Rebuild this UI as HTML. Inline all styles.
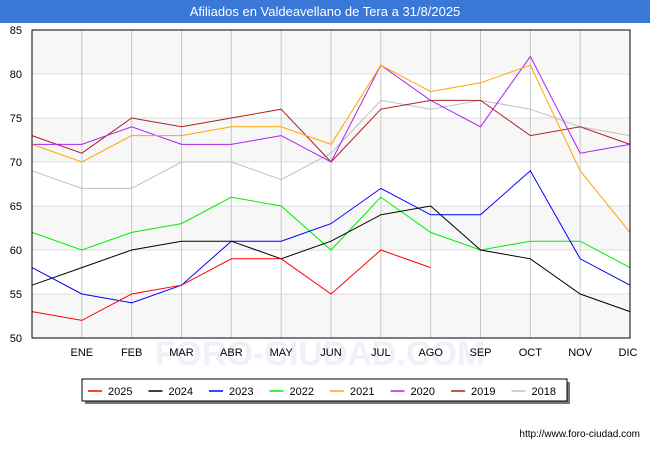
<!DOCTYPE html>
<html><head><meta charset="utf-8"><style>
body{margin:0;background:#fff;font-family:"Liberation Sans",sans-serif;}
</style></head><body>
<svg width="650" height="450" xmlns="http://www.w3.org/2000/svg">
<rect x="0" y="0" width="650" height="450" fill="#fff"/>
<rect x="0" y="0" width="650" height="23" fill="#3a78d8"/>
<text x="325" y="16" text-anchor="middle" fill="#fff" font-size="13">Afiliados en Valdeavellano de Tera a 31/8/2025</text>
<g id="bands"></g>
<g id="grid"></g>
<text x="320" y="365" text-anchor="middle" font-size="34" fill="#eef0fa" font-weight="bold">FORO-CIUDAD.COM</text>
<g id="series"></g>
<rect x="32" y="30" width="598" height="308" fill="none" stroke="#000" stroke-width="1"/>
<g id="axes"></g>
<rect x="85" y="382" width="485" height="22" fill="#777"/>
<rect x="82" y="379" width="485" height="22" fill="#fff" stroke="#000" stroke-width="1"/>
<g id="legend"></g>
<text x="640" y="437" text-anchor="end" font-size="10" fill="#000">http://www.foro-ciudad.com</text>
</svg>
<script>
const months=["","ENE","FEB","MAR","ABR","MAY","JUN","JUL","AGO","SEP","OCT","NOV","DIC"];
const yTicks=[50,55,60,65,70,75,80,85];
const seriesNames=["2025","2024","2023","2022","2021","2020","2019","2018"];
const seriesColors=["#ff0000","#000000","#0000ff","#00ee00","#ffa500","#aa22ee","#aa2222","#c0c0c0"];
const s2025=[53,52,55,56,59,59,55,60,58];
const s2024=[56,58,60,61,61,59,61,64,65,60,59,55,53];
const s2023=[58,55,54,56,61,61,63,67,64,64,69,59,56];
const s2022=[62,60,62,63,66,65,60,66,62,60,61,61,58];
const s2021=[72,70,73,73,74,74,72,81,78,79,81,69,62];
const s2020=[72,72,74,72,72,73,70,81,77,74,82,71,72];
const s2019=[73,71,75,74,75,76,70,76,77,77,73,74,72];
const s2018=[69,67,67,70,70,68,71,77,76,77,76,74,73];
const allSeries=[s2025,s2024,s2023,s2022,s2021,s2020,s2019,s2018];
const NS="http://www.w3.org/2000/svg";
const X0=32,X1=630,Y0=338,Y1=30,VMIN=50,VMAX=85;
const xs=i=>X0+i*(X1-X0)/12;
const ys=v=>Y0-(v-VMIN)*(Y0-Y1)/(VMAX-VMIN);
function mk(tag,attrs,parent){const e=document.createElementNS(NS,tag);for(const k in attrs)e.setAttribute(k,attrs[k]);parent.appendChild(e);return e;}
const bands=document.getElementById('bands'),grid=document.getElementById('grid'),axes=document.getElementById('axes'),ser=document.getElementById('series'),leg=document.getElementById('legend');
for(let i=0;i<yTicks.length-1;i++){
  if(i%2===0){const r=mk('rect',{x:X0,y:ys(yTicks[i+1]),width:X1-X0,height:ys(yTicks[i])-ys(yTicks[i+1]),fill:'#f7f7f7'},bands);
  
  }
}
yTicks.forEach(v=>{
  const l=mk('line',{x1:X0,x2:X1,y1:ys(v),y2:ys(v),stroke:'#dddddd'},grid);
  
  
  const t=mk('text',{x:22,y:ys(v)+4,'text-anchor':'end','font-size':'11',fill:'#000'},axes);
  t.textContent=v;
  
  
});
months.forEach((m,i)=>{
  if(i===0)return;
  const l=mk('line',{x1:xs(i),x2:xs(i),y1:Y1,y2:Y0,stroke:'#c8c8c8'},grid);
  
  
  const t=mk('text',{x:xs(i)-(i===12?2:0),y:356,'text-anchor':'middle','font-size':'11',fill:'#000'},axes);
  t.textContent=m;
  
  
});
for(let k=allSeries.length-1;k>=0;k--){
  const pts=allSeries[k].map((v,i)=>xs(i)+','+ys(v)).join(' ');
  const p=mk('polyline',{points:pts,fill:'none',stroke:seriesColors[k],'stroke-width':'1'},ser);
  
  
}
seriesNames.forEach((n,k)=>{
  const x=88+k*60.5;
  const l=mk('line',{x1:x,x2:x+14,y1:391,y2:391,stroke:seriesColors[k],'stroke-width':'1.5'},leg);
  
  
  const t=mk('text',{x:x+20,y:395,'font-size':'11',fill:'#000'},leg);
  t.textContent=n;
  
  
});
</script>
</body></html>
